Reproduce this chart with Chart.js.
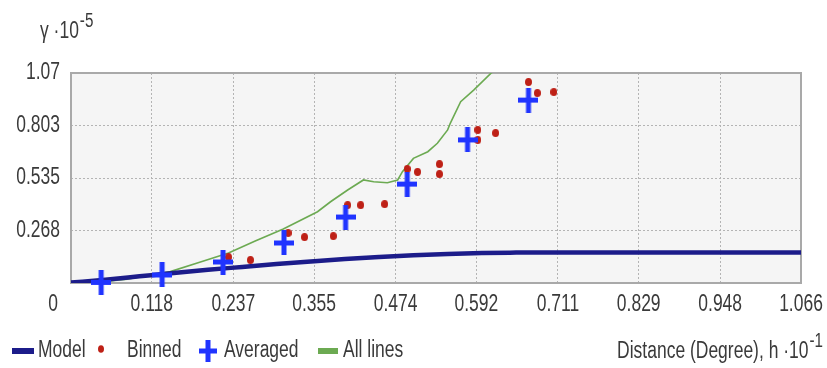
<!DOCTYPE html>
<html>
<head>
<meta charset="utf-8">
<script src="https://cdn.jsdelivr.net/npm/chart.js@4/dist/chart.umd.min.js"></script>
<style>
  html, body { margin: 0; padding: 0; background: #ffffff; }
  #wrap { width: 827px; height: 368px; }
</style>
</head>
<body>
<div id="wrap"><canvas id="c" width="827" height="368"></canvas></div>
<script>
// Axis tick labels (distance in degrees ·10^-1, semivariance ·10^-5)
const xTickLabels = ['0', '0.118', '0.237', '0.355', '0.474', '0.592', '0.711', '0.829', '0.948', '1.066'];
const yTickLabels = ['0', '0.268', '0.535', '0.803', '1.07'];

// Fitted model curve
const modelH     = [0, 0.05, 0.1, 0.15, 0.2, 0.25, 0.3, 0.35, 0.4, 0.45, 0.5, 0.55, 0.6, 0.65, 0.7, 0.8, 0.9, 1.066];
const modelGamma = [0.002, 0.017, 0.034, 0.051, 0.067, 0.082, 0.097, 0.110, 0.122, 0.132, 0.141, 0.148, 0.153, 0.155, 0.156, 0.156, 0.156, 0.156];

// Binned empirical semivariances
const binnedH     = [0.230, 0.262, 0.317, 0.341, 0.383, 0.404, 0.423, 0.458, 0.491, 0.506, 0.538, 0.538, 0.594, 0.594, 0.620, 0.668, 0.681, 0.705];
const binnedGamma = [0.132, 0.117, 0.255, 0.234, 0.239, 0.397, 0.397, 0.402, 0.581, 0.566, 0.606, 0.555, 0.780, 0.729, 0.764, 1.024, 0.968, 0.973];

// Averaged semivariances
const avgH     = [0.044, 0.133, 0.222, 0.311, 0.401, 0.491, 0.579, 0.668];
const avgGamma = [0.003, 0.041, 0.107, 0.204, 0.336, 0.504, 0.729, 0.932];

// All lines
const linesH     = [0, 0.042, 0.082, 0.116, 0.145, 0.189, 0.230, 0.269, 0.310, 0.360, 0.379, 0.404, 0.427, 0.442, 0.462, 0.477, 0.484, 0.500, 0.521, 0.535, 0.550, 0.554, 0.569, 0.588, 0.613, 0.642];
const linesGamma = [0, 0.005, 0.019, 0.041, 0.058, 0.107, 0.153, 0.214, 0.275, 0.363, 0.414, 0.474, 0.525, 0.516, 0.511, 0.525, 0.567, 0.635, 0.669, 0.712, 0.780, 0.815, 0.924, 0.983, 1.068, 1.14];

const pts = (xs, ys) => xs.map((x, i) => ({ x: x, y: ys[i] }));

const FONT = "'Liberation Sans', Arial, sans-serif";
const NARROW = 0.76;          // horizontal squeeze for a condensed look
const TEXT = '#3a3a3a';
const NAVY = 'rgb(28,28,138)';
const RED = 'rgb(190,32,22)';
const BLUE = 'rgb(32,52,255)';
const GREEN = 'rgb(108,170,82)';

// Plus-shaped marker, slightly taller than wide
function plusMarker(w, h, lw, color) {
  const c = document.createElement('canvas');
  c.width = w; c.height = h;
  const g = c.getContext('2d');
  g.fillStyle = color;
  g.fillRect(0, (h - lw) / 2, w, lw);
  g.fillRect((w - lw) / 2, 0, lw, h);
  return c;
}
// Small dot marker, slightly taller than wide
function dotMarker(w, h, color) {
  const c = document.createElement('canvas');
  c.width = w; c.height = h;
  const g = c.getContext('2d');
  g.fillStyle = color;
  g.beginPath();
  g.ellipse(w / 2, h / 2, w / 2, h / 2, 0, 0, Math.PI * 2);
  g.fill();
  return c;
}

// Draw condensed text; returns drawn width
function txt(ctx, s, x, y, align, size) {
  ctx.save();
  ctx.font = size + 'px ' + FONT;
  ctx.textAlign = align;
  ctx.textBaseline = 'middle';
  ctx.translate(x, y);
  ctx.scale(NARROW, 1);
  ctx.fillText(s, 0, 0);
  const w = ctx.measureText(s).width * NARROW;
  ctx.restore();
  return w;
}
function txtWidth(ctx, s, size) {
  ctx.save();
  ctx.font = size + 'px ' + FONT;
  const w = ctx.measureText(s).width * NARROW;
  ctx.restore();
  return w;
}

const decor = {
  id: 'decor',
  beforeDraw(chart) {
    const { ctx, chartArea: a } = chart;
    ctx.save();
    ctx.fillStyle = '#f5f5f5';
    ctx.fillRect(a.left, a.top, a.right - a.left, a.bottom - a.top);
    ctx.restore();
  },
  beforeDatasetsDraw(chart) {
    const { ctx, chartArea: a } = chart;
    ctx.save();
    ctx.strokeStyle = '#a9a9a9';
    ctx.lineWidth = 2;
    ctx.strokeRect(a.left, a.top, a.right - a.left, a.bottom - a.top);
    ctx.restore();
  },
  afterDraw(chart) {
    const { ctx, chartArea: a } = chart;
    const xs = chart.scales.x, ys = chart.scales.y;
    ctx.save();
    ctx.fillStyle = TEXT;

    // x tick labels (origin label sits left of the corner)
    xTickLabels.forEach((t, i) => {
      const px = i === 0 ? a.left - 18 : xs.getPixelForValue(parseFloat(t));
      txt(ctx, t, px, a.bottom + 22, 'center', 23);
    });
    // y tick labels
    yTickLabels.forEach((t, i) => {
      if (i === 0) return;
      txt(ctx, t, a.left - 11, ys.getPixelForValue(parseFloat(t)), 'right', 23);
    });

    // y title
    const w1 = txt(ctx, 'γ ·10', 40, 32, 'left', 23);
    txt(ctx, '-5', 40 + w1 + 1, 21, 'left', 20);

    // x title, right aligned
    const supW = txtWidth(ctx, '-1', 20);
    const rightEnd = 823;
    txt(ctx, '-1', rightEnd, 341, 'right', 20);
    txt(ctx, 'Distance (Degree), h ·10', rightEnd - supW - 1, 352, 'right', 23);

    // legend
    const ly = 351;
    ctx.fillStyle = NAVY;
    ctx.fillRect(12, ly - 3, 22, 6);
    ctx.fillStyle = TEXT;
    txt(ctx, 'Model', 38, ly, 'left', 23);

    ctx.fillStyle = RED;
    ctx.beginPath();
    ctx.ellipse(101, ly - 2, 3, 3.8, 0, 0, Math.PI * 2);
    ctx.fill();
    ctx.fillStyle = TEXT;
    txt(ctx, 'Binned', 127, ly, 'left', 23);

    ctx.fillStyle = BLUE;
    ctx.fillRect(199, ly - 2.5, 18, 5);
    ctx.fillRect(205.5, ly - 11, 5, 22);
    ctx.fillStyle = TEXT;
    txt(ctx, 'Averaged', 224, ly, 'left', 23);

    ctx.fillStyle = GREEN;
    ctx.fillRect(318, ly - 3, 20, 6);
    ctx.fillStyle = TEXT;
    txt(ctx, 'All lines', 343, ly, 'left', 23);
    ctx.restore();
  }
};

new Chart(document.getElementById('c'), {
  type: 'scatter',
  data: {
    datasets: [
      {
        label: 'Averaged',
        data: pts(avgH, avgGamma),
        pointStyle: plusMarker(20, 25, 5, BLUE),
        pointRadius: 10,
        borderColor: BLUE,
        backgroundColor: BLUE,
        clip: false,
        order: 0
      },
      {
        label: 'Binned',
        data: pts(binnedH, binnedGamma),
        pointStyle: dotMarker(7, 8, RED),
        pointRadius: 3.5,
        borderColor: RED,
        backgroundColor: RED,
        clip: false,
        order: 1
      },
      {
        label: 'Model',
        data: pts(modelH, modelGamma),
        showLine: true,
        pointRadius: 0,
        borderColor: NAVY,
        borderWidth: 4.5,
        cubicInterpolationMode: 'monotone',
        order: 2
      },
      {
        label: 'All lines',
        data: pts(linesH, linesGamma),
        showLine: true,
        pointRadius: 0,
        borderColor: GREEN,
        borderWidth: 1.6,
        tension: 0,
        order: 3
      }
    ]
  },
  options: {
    responsive: false,
    animation: false,
    devicePixelRatio: 1,
    layout: { padding: { top: 73, right: 26, bottom: 45, left: 0 } },
    plugins: { legend: { display: false }, tooltip: { enabled: false } },
    scales: {
      x: {
        type: 'linear',
        min: 0,
        max: 1.066,
        afterBuildTicks: s => { s.ticks = xTickLabels.map(t => ({ value: parseFloat(t) })); },
        afterFit: s => { s.height = 40; },
        ticks: { display: false, autoSkip: false },
        grid: { color: '#b4b4b4', lineWidth: 1, drawTicks: false },
        border: { display: false, dash: [2, 2] }
      },
      y: {
        type: 'linear',
        min: 0,
        max: 1.07,
        afterBuildTicks: s => { s.ticks = yTickLabels.map(t => ({ value: parseFloat(t) })); },
        afterFit: s => { s.width = 71; },
        ticks: { display: false, autoSkip: false },
        grid: { color: '#b4b4b4', lineWidth: 1, drawTicks: false },
        border: { display: false, dash: [2, 2] }
      }
    }
  },
  plugins: [decor]
});
</script>
</body>
</html>
